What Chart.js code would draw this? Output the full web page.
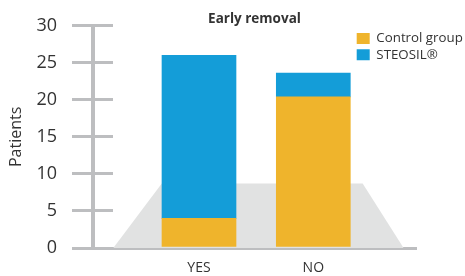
<!DOCTYPE html>
<html><head><meta charset="utf-8">
<script src="https://cdn.jsdelivr.net/npm/chart.js@4/dist/chart.umd.min.js"></script>
<style>html,body{margin:0;padding:0;background:#fff}</style>
</head><body>
<canvas id="c" width="465" height="276"></canvas>
<script>
// ---- data ----
const categories = ['YES', 'NO'];
const controlGroup = [4, 20.4];
const steosil = [22, 3.2];
const yTicks = [0, 5, 10, 15, 20, 25, 30];
// decorative grey "floor" behind the bars, in axis units
const floorOutline = [{x: 0.25, y: 0}, {x: 0.674, y: 8.7}, {x: 2.432, y: 8.7}, {x: 2.79, y: 0}];

// ---- styles ----
const axisGrey = '#bdbec0';
const textColor = '#333333';
const fam = "'Open Sans', 'Noto Sans', sans-serif";
Chart.defaults.font.family = fam;
Chart.defaults.color = textColor;

const toPoints = vals => vals.map((v, i) => ({x: i + 1, y: v}));

function alignPx(p, w) { return Math.round(p - w / 2) + w / 2; }

// right half of the crossing tick marks on the y axis
const crossTicks = {
  id: 'crossTicks',
  beforeDatasetsDraw(chart) {
    const ys = chart.scales.y, ctx = chart.ctx, left = chart.chartArea.left;
    ctx.save();
    ctx.strokeStyle = axisGrey;
    ctx.lineWidth = 3;
    ys.ticks.forEach(t => {
      const y = alignPx(ys.getPixelForValue(t.value), 3);
      ctx.beginPath();
      ctx.moveTo(left, y);
      ctx.lineTo(left + 20, y);
      ctx.stroke();
    });
    ctx.restore();
  }
};

// place the legend column at top right, over the plot
const legendPlace = {
  id: 'legendPlace',
  afterLayout(chart) {
    const lg = chart.legend;
    if (!lg) return;
    const w = lg.width, h = lg.height;
    lg.left = 353.7; lg.top = 28.8;
    lg.right = lg.left + w; lg.bottom = lg.top + h;
  }
};

new Chart(document.getElementById('c'), {
  type: 'bar',
  data: {
    datasets: [
      {label: 'Control group', data: toPoints(controlGroup), backgroundColor: '#efb42c', stack: 's', order: 1, barThickness: 74},
      {label: 'STEOSIL®', data: toPoints(steosil), backgroundColor: '#149dd8', stack: 's', order: 1, barThickness: 74},
      {type: 'line', label: 'floor', data: floorOutline, backgroundColor: '#e1e2e2', borderWidth: 0, pointRadius: 0, fill: 'origin', stack: 'floor', order: 10}
    ]
  },
  options: {
    responsive: false,
    animation: false,
    devicePixelRatio: 1,
    layout: {padding: {left: 0, right: 49, top: 0, bottom: 0}},
    scales: {
      x: {
        type: 'linear', min: 0.0726, max: 2.8985, stacked: true, offset: false,
        grid: {display: false, drawTicks: false},
        border: {display: true, color: axisGrey, width: 3},
        ticks: {font: {size: 14}, color: textColor, padding: 12, callback: v => categories[v - 1] ?? ''},
        afterBuildTicks: s => { s.ticks = categories.map((c, i) => ({value: i + 1})); },
        afterFit: s => { s.height = 28; }
      },
      y: {
        stacked: true, min: 0, max: 30,
        ticks: {font: {size: 18}, color: textColor, padding: 15},
        afterBuildTicks: s => { s.ticks = yTicks.map(v => ({value: v})); },
        grid: {drawOnChartArea: false, drawTicks: true, tickLength: 21, lineWidth: 3, color: axisGrey},
        border: {display: true, color: axisGrey, width: 4},
        title: {display: true, text: 'Patients', font: {size: 16}, color: textColor, padding: {top: 7, bottom: 0}},
        afterFit: s => { s.width = 93; }
      }
    },
    plugins: {
      legend: {
        position: 'chartArea', align: 'start',
        labels: {filter: item => item.datasetIndex < 2, boxWidth: 13, boxHeight: 11, padding: 3, font: {size: 13.3}, color: textColor}
      },
      title: {
        display: true, text: 'Early removal', fullSize: false,
        font: {size: 13.5, weight: 'bold', lineHeight: 1}, color: textColor,
        padding: {top: 8.5, bottom: 0}
      },
      tooltip: {enabled: false}
    }
  },
  plugins: [crossTicks, legendPlace]
});
</script>
</body></html>
